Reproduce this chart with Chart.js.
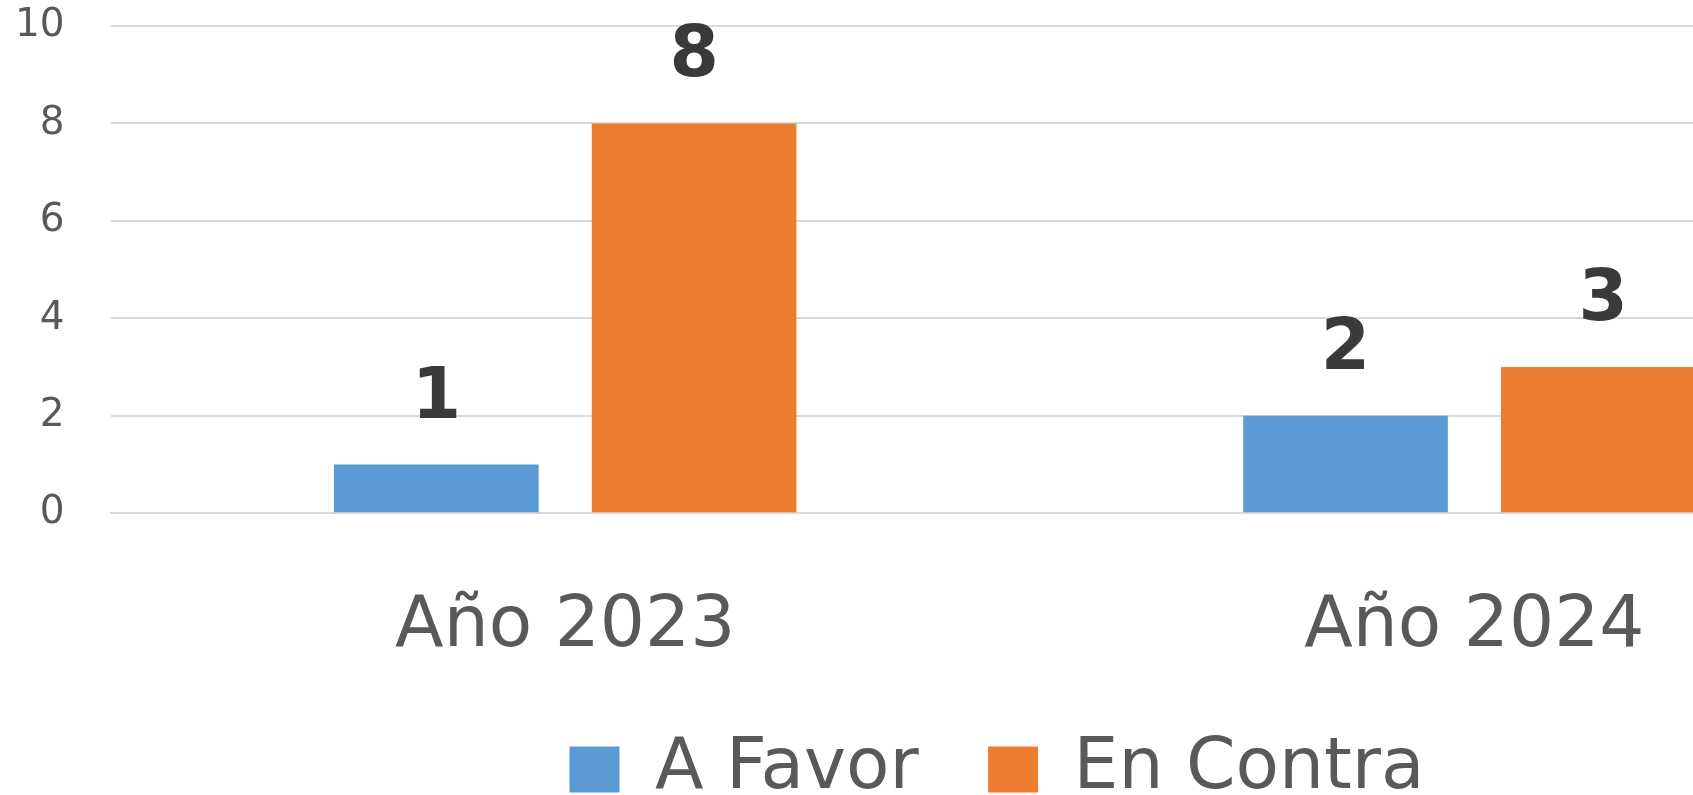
<!DOCTYPE html>
<html>
<head>
<meta charset="utf-8">
<script src="https://cdn.jsdelivr.net/npm/chart.js@4.4.1/dist/chart.umd.min.js"></script>
<style>
  html, body { margin: 0; padding: 0; background: #fff; overflow: hidden; }
  /* the reference is cropped on the right, so the chart is wider than the window */
  #wrap { width: 1929px; height: 815px; position: relative; }
</style>
</head>
<body>
<div id="wrap"><canvas id="chart"></canvas></div>
<script>
const categories = ['Año 2023', 'Año 2024'];
const aFavor     = [1, 2];
const enContra   = [8, 3];
const yTicks     = [0, 2, 4, 6, 8, 10];

const FONT = '"DejaVu Sans", Verdana, sans-serif';
const NONE = 'rgba(0,0,0,0)';

// value labels above each bar
const valueLabels = {
  id: 'valueLabels',
  afterDatasetsDraw(chart) {
    const ctx = chart.ctx;
    ctx.save();
    ctx.font = `bold 71px ${FONT}`;
    ctx.fillStyle = '#3A3A3A';
    ctx.textAlign = 'center';
    ctx.textBaseline = 'alphabetic';
    chart.data.datasets.forEach((ds, i) => {
      chart.getDatasetMeta(i).data.forEach((bar, j) => {
        ctx.fillText(String(ds.data[j]), bar.x, bar.y - 47);
      });
    });
    ctx.restore();
  }
};

// legend sits a bit right of the centre of the (cropped) chart
const legendNudge = {
  id: 'legendNudge',
  afterLayout(chart) {
    chart.legend.left  += 25;
    chart.legend.right += 25;
  }
};

new Chart(document.getElementById('chart'), {
  type: 'bar',
  data: {
    labels: categories,
    datasets: [
      { label: 'A Favor',   data: aFavor,   backgroundColor: '#5B9BD5', barPercentage: 0.794, categoryPercentage: 0.567 },
      { label: 'En Contra', data: enContra, backgroundColor: '#ED7D31', barPercentage: 0.794, categoryPercentage: 0.567 }
    ]
  },
  options: {
    responsive: true,
    maintainAspectRatio: false,
    animation: false,
    layout: { padding: { left: 15, top: 26, right: 0, bottom: 0 } },
    scales: {
      x: {
        // invisible tick marks give the gap between axis and labels
        grid: { color: NONE, tickColor: NONE, drawTicks: true, tickLength: 78 },
        border: { display: true, color: '#D9D9D9', width: 2 },
        ticks: { color: '#595959', font: { family: FONT, size: 71, lineHeight: 1.031 }, padding: 0 }
      },
      y: {
        min: 0, max: 10,
        afterBuildTicks: s => { s.ticks = yTicks.map(v => ({ value: v })); },
        grid: { color: '#D9D9D9', lineWidth: 2, drawTicks: true, tickLength: 46, tickColor: NONE },
        border: { display: false },
        ticks: { color: '#595959', font: { family: FONT, size: 39 }, padding: 0 }
      }
    },
    plugins: {
      legend: {
        position: 'bottom',
        labels: {
          color: '#595959',
          font: { family: FONT, size: 71 },
          boxWidth: 50, boxHeight: 46,
          padding: 69.5
        }
      },
      tooltip: { enabled: false }
    }
  },
  plugins: [valueLabels, legendNudge]
});
</script>
</body>
</html>
